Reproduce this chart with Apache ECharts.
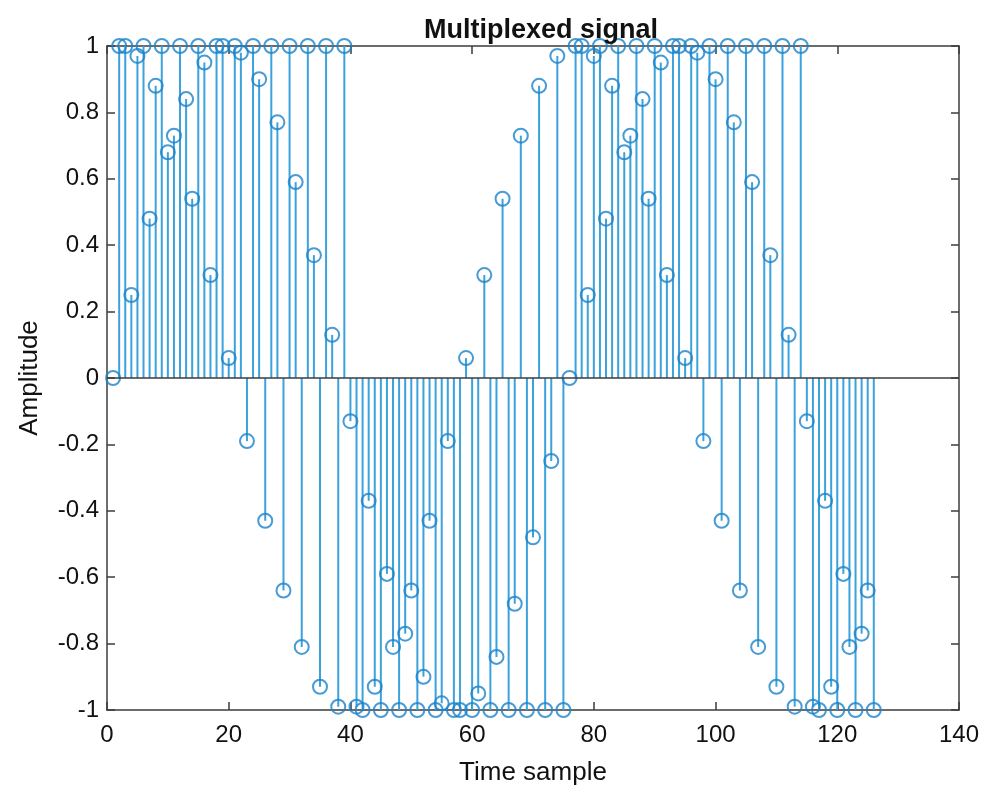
<!DOCTYPE html>
<html>
<head>
<meta charset="utf-8">
<script src="https://cdn.jsdelivr.net/npm/echarts@6/dist/echarts.min.js"></script>
<style>
  html, body { margin: 0; padding: 0; background: #ffffff; }
  #chart { width: 982px; height: 795px; }
</style>
</head>
<body>
<div id="chart"></div>
<script>
// Time-division multiplexing of three channels: each frame carries one sample
// of the sine channel, one of the cosine channel and one of the square channel.
const sineChannel = [
  0, 0.25, 0.48, 0.68, 0.84, 0.95, 1.00, 0.98, 0.90, 0.77, 0.59, 0.37, 0.13,
  -0.13, -0.37, -0.59, -0.77, -0.90, -0.98, -1.00, -0.95, -0.84, -0.68, -0.48, -0.25,
  0, 0.25, 0.48, 0.68, 0.84, 0.95, 1.00, 0.98, 0.90, 0.77, 0.59, 0.37, 0.13,
  -0.13, -0.37, -0.59, -0.77
];
const cosineChannel = [
  1.00, 0.97, 0.88, 0.73, 0.54, 0.31, 0.06, -0.19, -0.43, -0.64, -0.81, -0.93, -0.99,
  -0.99, -0.93, -0.81, -0.64, -0.43, -0.19, 0.06, 0.31, 0.54, 0.73, 0.88, 0.97,
  1.00, 0.97, 0.88, 0.73, 0.54, 0.31, 0.06, -0.19, -0.43, -0.64, -0.81, -0.93, -0.99,
  -0.99, -0.93, -0.81, -0.64
];
const squareChannel = [
  1, 1, 1, 1, 1, 1, 1, 1, 1, 1, 1, 1, 1,
  -1, -1, -1, -1, -1, -1, -1, -1, -1, -1, -1, -1,
  1, 1, 1, 1, 1, 1, 1, 1, 1, 1, 1, 1, 1,
  -1, -1, -1, -1
];
const channels = [sineChannel, cosineChannel, squareChannel];

const xTickValues = [0, 20, 40, 60, 80, 100, 120, 140];
const yTickValues = [-1, -0.8, -0.6, -0.4, -0.2, 0, 0.2, 0.4, 0.6, 0.8, 1];

// Interleave the channels into one stream; time samples are numbered from 1.
const multiplexed = [];
for (let frame = 0; frame < sineChannel.length; frame++) {
  channels.forEach(function (ch) {
    multiplexed.push([multiplexed.length + 1, ch[frame]]);
  });
}

const STEM = '#3ba2dc';
const MARK = '#1a82c9';
const AXIS = '#3c3c3c';
const TEXT = '#111111';
const FONT = '"Liberation Sans", Arial, sans-serif';

const xStep = xTickValues[1] - xTickValues[0];
const yStep = +(yTickValues[1] - yTickValues[0]).toFixed(2);

function xAxisDef(pos, primary) {
  return {
    type: 'value', position: pos,
    min: xTickValues[0], max: xTickValues[xTickValues.length - 1], interval: xStep,
    axisLine: { show: true, onZero: false, lineStyle: { color: AXIS, width: 1.5 } },
    axisTick: { show: true, inside: true, length: 8, lineStyle: { color: AXIS, width: 1.5 } },
    axisLabel: primary ? { show: true, color: TEXT, fontSize: 24, fontFamily: FONT, margin: 13 } : { show: false },
    splitLine: { show: false },
    name: primary ? 'Time sample' : '',
    nameLocation: 'middle', nameGap: 50,
    nameTextStyle: { color: TEXT, fontSize: 26, fontFamily: FONT }
  };
}
function yAxisDef(pos, primary) {
  return {
    type: 'value', position: pos,
    min: yTickValues[0], max: yTickValues[yTickValues.length - 1], interval: yStep,
    axisLine: { show: true, onZero: false, lineStyle: { color: AXIS, width: 1.5 } },
    axisTick: { show: true, inside: true, length: 8, lineStyle: { color: AXIS, width: 1.5 } },
    axisLabel: primary ? { show: true, color: TEXT, fontSize: 24, fontFamily: FONT, margin: 8 } : { show: false },
    splitLine: { show: false },
    name: primary ? 'Amplitude' : '',
    nameLocation: 'middle', nameGap: 64, nameRotate: 90,
    nameTextStyle: { color: TEXT, fontSize: 26, fontFamily: FONT }
  };
}

const chart = echarts.init(document.getElementById('chart'), null, { renderer: 'canvas' });
chart.setOption({
  animation: false,
  backgroundColor: '#ffffff',
  title: {
    text: 'Multiplexed signal',
    left: 536, top: 12, textAlign: 'center',
    textStyle: { color: TEXT, fontSize: 27, fontWeight: 'bold', fontFamily: FONT }
  },
  grid: { left: 107, right: 17, top: 46, bottom: 85, containLabel: false },
  xAxis: [xAxisDef('bottom', true), xAxisDef('top', false)],
  yAxis: [yAxisDef('left', true), yAxisDef('right', false)],
  series: [
    {
      // stems from the zero baseline up/down to each sample
      type: 'custom',
      xAxisIndex: 0, yAxisIndex: 0,
      data: multiplexed,
      renderItem: function (params, api) {
        const x = api.value(0), y = api.value(1);
        const a = api.coord([x, 0]);
        const b = api.coord([x, y]);
        return {
          type: 'line',
          shape: { x1: a[0], y1: a[1], x2: b[0], y2: b[1] },
          style: { stroke: STEM, lineWidth: 2 }
        };
      },
      markLine: {
        silent: true,
        symbol: ['none', 'none'],
        label: { show: false },
        lineStyle: { color: AXIS, width: 1.5, type: 'solid' },
        data: [{ yAxis: 0 }]
      },
      z: 2
    },
    {
      // open circle marker at every sample
      type: 'scatter',
      xAxisIndex: 0, yAxisIndex: 0,
      data: multiplexed,
      symbol: 'circle',
      symbolSize: 14,
      itemStyle: { color: 'rgba(0,0,0,0)', borderColor: MARK, borderWidth: 2 },
      z: 3
    }
  ]
});
</script>
</body>
</html>
